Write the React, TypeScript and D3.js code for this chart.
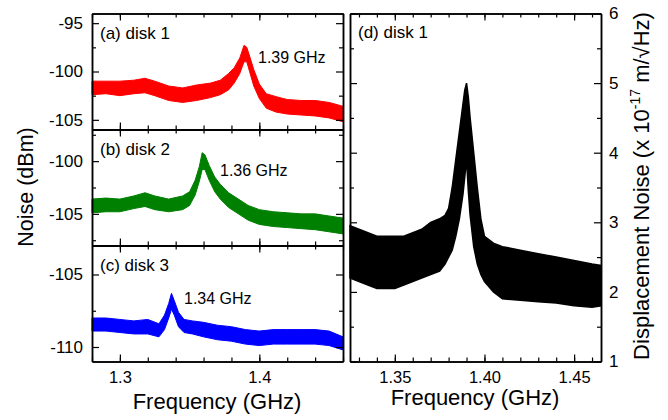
import * as d3 from "d3";
import { useEffect, useRef } from "react";

// (a) disk 1, Noise in dBm, band low/high
const freqA = [1.28, 1.29, 1.3, 1.31, 1.318, 1.325, 1.335, 1.345, 1.355, 1.365, 1.372, 1.378, 1.382, 1.386, 1.389, 1.391, 1.393, 1.396, 1.4, 1.405, 1.412, 1.42, 1.43, 1.44, 1.45, 1.46];
const lowA = [-102.4, -102.3, -102.5, -102.3, -102.2, -102.5, -103.0, -103.2, -103.0, -102.7, -102.4, -101.9, -101.2, -100.2, -99.0, -99.0, -100.0, -101.5, -102.8, -103.8, -104.2, -104.4, -104.5, -104.6, -104.8, -105.2];
const highA = [-101.0, -101.0, -101.0, -100.9, -100.7, -101.0, -101.5, -101.7, -101.4, -101.2, -100.9, -100.2, -99.6, -98.6, -97.3, -97.5, -98.4, -99.8, -101.3, -102.3, -102.6, -102.9, -103.0, -103.0, -103.2, -103.6];

// (b) disk 2
const freqB = [1.28, 1.29, 1.3, 1.31, 1.318, 1.325, 1.335, 1.345, 1.35, 1.354, 1.357, 1.359, 1.361, 1.364, 1.368, 1.372, 1.378, 1.385, 1.392, 1.4, 1.41, 1.42, 1.43, 1.44, 1.45, 1.46];
const lowB = [-104.9, -104.8, -104.8, -104.5, -104.3, -104.6, -104.8, -104.6, -104.2, -103.2, -101.9, -100.8, -100.8, -101.8, -102.9, -103.6, -104.4, -105.0, -105.6, -106.0, -106.2, -106.3, -106.4, -106.5, -106.7, -106.9];
const highB = [-103.6, -103.5, -103.6, -103.3, -103.0, -103.3, -103.6, -103.3, -102.9, -101.8, -100.5, -99.2, -99.4, -100.4, -101.5, -102.2, -103.0, -103.6, -104.2, -104.6, -104.8, -104.9, -105.0, -105.0, -105.2, -105.4];

// (c) disk 3
const freqC = [1.28, 1.29, 1.3, 1.31, 1.32, 1.328, 1.332, 1.335, 1.337, 1.339, 1.342, 1.346, 1.352, 1.36, 1.37, 1.38, 1.39, 1.4, 1.41, 1.42, 1.43, 1.44, 1.45, 1.46];
const lowC = [-108.9, -108.9, -109.0, -109.1, -109.1, -109.3, -108.8, -108.0, -107.4, -107.8, -108.6, -109.0, -109.1, -109.3, -109.5, -109.6, -109.8, -109.9, -109.8, -109.8, -109.8, -109.8, -109.9, -110.2];
const highC = [-108.0, -108.0, -108.1, -108.2, -108.1, -108.4, -107.8, -107.0, -106.3, -106.8, -107.6, -108.1, -108.2, -108.3, -108.5, -108.6, -108.8, -108.9, -108.8, -108.8, -108.8, -108.8, -108.9, -109.3];

// (d) disk 1, displacement noise (x 1e-17 m/sqrt(Hz))
const freqD = [1.325, 1.33, 1.335, 1.34, 1.345, 1.35, 1.355, 1.36, 1.365, 1.37, 1.375, 1.378, 1.38, 1.382, 1.384, 1.386, 1.388, 1.389, 1.39, 1.391, 1.392, 1.394, 1.396, 1.398, 1.4, 1.405, 1.41, 1.42, 1.43, 1.44, 1.45, 1.46, 1.465];
const lowD = [2.2, 2.15, 2.1, 2.05, 2.05, 2.05, 2.1, 2.15, 2.2, 2.25, 2.3, 2.4, 2.5, 2.6, 2.8, 3.05, 3.4, 3.65, 3.9, 3.45, 3.1, 2.65, 2.4, 2.25, 2.15, 2.0, 1.9, 1.88, 1.86, 1.84, 1.8, 1.78, 1.8];
const highD = [2.95, 2.9, 2.85, 2.8, 2.8, 2.8, 2.8, 2.85, 2.9, 3.0, 3.05, 3.1, 3.2, 3.5, 3.9, 4.3, 4.7, 4.9, 5.0, 4.8, 4.5, 4.0, 3.5, 3.05, 2.8, 2.7, 2.65, 2.6, 2.55, 2.5, 2.45, 2.4, 2.38];

const leftFreqTicks = [1.3, 1.4];
const leftFreqMinor = [1.28, 1.3, 1.32, 1.34, 1.36, 1.38, 1.4, 1.42, 1.44, 1.46];
const rightFreqTicks = [1.35, 1.4, 1.45];
const rightFreqMinor = [1.33, 1.34, 1.35, 1.36, 1.37, 1.38, 1.39, 1.4, 1.41, 1.42, 1.43, 1.44, 1.45, 1.46];
const dispTicks = [1, 2, 3, 4, 5, 6];
const dispMinor = [1.5, 2.5, 3.5, 4.5, 5.5];

const panelNames = ["(a) disk 1", "(b) disk 2", "(c) disk 3", "(d) disk 1"];
const peakLabels = ["1.39 GHz", "1.36 GHz", "1.34 GHz"];

const FONT = "'Liberation Sans', Arial, sans-serif";

export default function App() {
  const ref = useRef<SVGSVGElement>(null);

  useEffect(() => {
    const svg = d3.select(ref.current);
    svg.selectAll("*").remove();

    const L = { x0: 92, x1: 343 };
    const R = { x0: 350, x1: 601, y0: 13.5, y1: 361.5 };

    const xLeft = d3.scaleLinear().domain([1.28, 1.46]).range([L.x0, L.x1]);
    const xRight = d3.scaleLinear().domain([1.325, 1.465]).range([R.x0, R.x1]);

    const panels = [
      { f: freqA, lo: lowA, hi: highA, top: 13.5, bottom: 129.5, dom: [-106, -94], major: [-95, -100, -105], minor: [-97.5, -102.5], color: "#ff0000", lx: 258, ly: 63 },
      { f: freqB, lo: lowB, hi: highB, top: 129.5, bottom: 245.5, dom: [-108, -97], major: [-100, -105], minor: [-97.5, -102.5, -107.5], color: "#008000", lx: 220, ly: 176 },
      { f: freqC, lo: lowC, hi: highC, top: 245.5, bottom: 361.5, dom: [-111, -103], major: [-105, -110], minor: [-107.5], color: "#0000ff", lx: 184, ly: 304 },
    ];

    // plain hyphen for negatives, like the original
    const intFmt = (d) => String(d);

    // ticks on all four sides, pointing inward
    function frame(x, y, xMajor, xMinor, yMajor, yMinor, labels) {
      const [left, right] = x.range();
      const [bottom, top] = y.range();
      const g = svg.append("g");
      const add = (axis, tx, ty, cls) =>
        g.append("g").attr("class", cls).attr("transform", `translate(${tx},${ty})`).call(axis.tickSizeOuter(0));
      const none = () => "";

      add(d3.axisBottom(x).tickValues(xMinor).tickSize(-4).tickFormat(none), 0, bottom, "x");
      add(d3.axisBottom(x).tickValues(xMajor).tickSize(-7).tickPadding(10).tickFormat(labels.xBottom ? labels.xFmt : none), 0, bottom, "x");
      add(d3.axisTop(x).tickValues(xMinor).tickSize(-4).tickFormat(none), 0, top, "x");
      add(d3.axisTop(x).tickValues(xMajor).tickSize(-7).tickFormat(none), 0, top, "x");
      add(d3.axisLeft(y).tickValues(yMinor).tickSize(-4).tickFormat(none), left, 0, "y");
      add(d3.axisLeft(y).tickValues(yMajor).tickSize(-7).tickPadding(9).tickFormat(labels.yLeft ? intFmt : none), left, 0, "y");
      add(d3.axisRight(y).tickValues(yMinor).tickSize(-4).tickFormat(none), right, 0, "y");
      add(d3.axisRight(y).tickValues(yMajor).tickSize(-7).tickPadding(8).tickFormat(labels.yRight ? intFmt : none), right, 0, "y");

      g.selectAll(".domain").attr("stroke", "#000").attr("stroke-width", 1.5);
      g.selectAll(".tick line").attr("stroke", "#000").attr("stroke-width", 1.2);
      g.selectAll("g").attr("font-family", null).attr("font-size", null);
      g.selectAll("text").attr("font-family", FONT).attr("fill", "#000");
      g.selectAll(".x text").attr("font-size", 16.5);
      g.selectAll(".y text").attr("font-size", 17);
    }

    panels.forEach((p, i) => {
      const y = d3.scaleLinear().domain(p.dom).range([p.bottom, p.top]);
      const rows = p.f.map((f, k) => ({ f, lo: p.lo[k], hi: p.hi[k] }));
      const area = d3.area<any>()
        .x((d) => xLeft(d.f))
        .y0((d) => y(d.lo))
        .y1((d) => y(d.hi));

      svg.append("path")
        .datum(rows)
        .attr("d", area)
        .attr("fill", p.color)
        .attr("stroke", p.color)
        .attr("stroke-width", 1);

      frame(xLeft, y, leftFreqTicks, leftFreqMinor, p.major, p.minor, {
        xBottom: i === 2,
        xFmt: d3.format(".1f"),
        yLeft: true,
        yRight: false,
      });

      svg.append("text")
        .attr("x", 100).attr("y", p.top + 25.5)
        .attr("font-family", FONT).attr("font-size", 17)
        .text(panelNames[i]);

      svg.append("text")
        .attr("x", p.lx).attr("y", p.ly)
        .attr("font-family", FONT).attr("font-size", 16)
        .text(peakLabels[i]);
    });

    // (d) panel
    const yRight = d3.scaleLinear().domain([1, 6]).range([R.y1, R.y0]);
    const rowsD = freqD.map((f, k) => ({ f, lo: lowD[k], hi: highD[k] }));
    const areaD = d3.area<any>()
      .x((d) => xRight(d.f))
      .y0((d) => yRight(d.lo))
      .y1((d) => yRight(d.hi));

    svg.append("path")
      .datum(rowsD)
      .attr("d", areaD)
      .attr("fill", "#000")
      .attr("stroke", "#000")
      .attr("stroke-width", 1.5);

    frame(xRight, yRight, rightFreqTicks, rightFreqMinor, dispTicks, dispMinor, {
      xBottom: true,
      xFmt: d3.format(".2f"),
      yLeft: false,
      yRight: true,
    });

    svg.append("text")
      .attr("x", 358).attr("y", 38)
      .attr("font-family", FONT).attr("font-size", 17)
      .text(panelNames[3]);

    // axis titles
    svg.append("text")
      .attr("x", 217).attr("y", 409)
      .attr("text-anchor", "middle")
      .attr("font-family", FONT).attr("font-size", 22)
      .text("Frequency (GHz)");

    svg.append("text")
      .attr("x", 475).attr("y", 405)
      .attr("text-anchor", "middle")
      .attr("font-family", FONT).attr("font-size", 22)
      .text("Frequency (GHz)");

    svg.append("text")
      .attr("transform", "translate(33,187) rotate(-90)")
      .attr("text-anchor", "middle")
      .attr("font-family", FONT).attr("font-size", 21.5)
      .text("Noise (dBm)");

    const t = svg.append("text")
      .attr("transform", "translate(649,186) rotate(-90)")
      .attr("text-anchor", "middle")
      .attr("font-family", FONT).attr("font-size", 22);
    t.append("tspan").text("Displacement Noise (x 10");
    t.append("tspan").attr("dy", -9).attr("font-size", 14).text("-17");
    t.append("tspan").attr("dy", 9).text(" m/\u221AHz)");
  }, []);

  return (
    <svg
      ref={ref}
      width={668}
      height={420}
      style={{ position: "absolute", left: 0, top: 0, background: "#fff" }}
    />
  );
}
